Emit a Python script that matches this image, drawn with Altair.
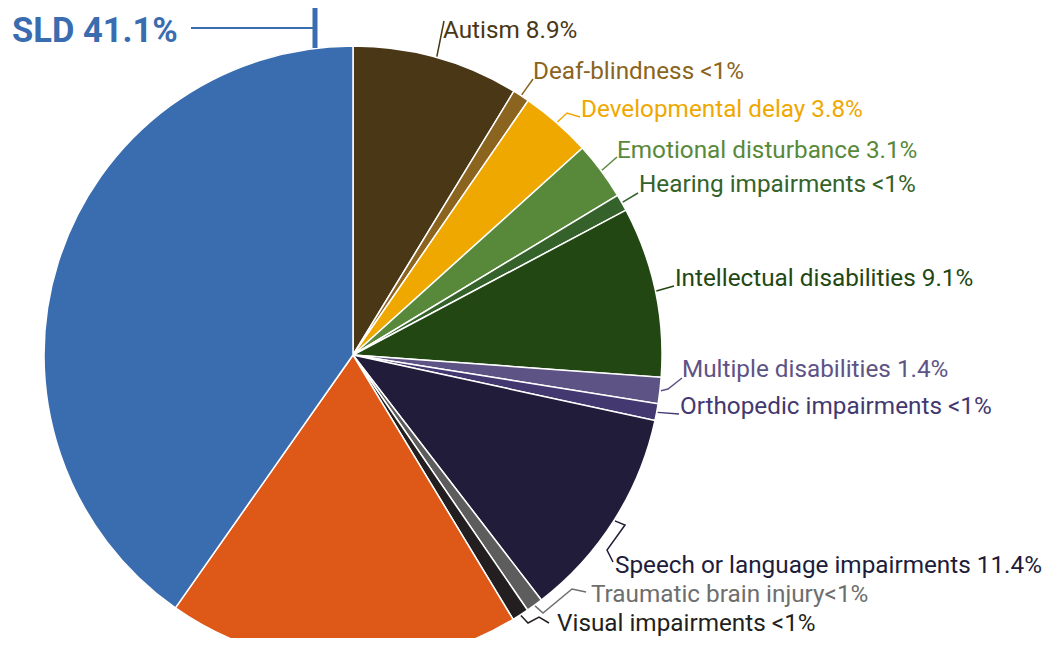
import math
import altair as alt
import pandas as pd

# ---- data ----
categories = ["Autism", "Deaf-blindness", "Developmental delay", "Emotional disturbance",
              "Hearing impairments", "Intellectual disabilities", "Multiple disabilities",
              "Orthopedic impairments", "Speech or language impairments",
              "Traumatic brain injury", "Visual impairments", "Other health impairments", "SLD"]
values = [8.9, 0.9, 3.8, 3.1, 0.9, 9.1, 1.4, 0.9, 11.4, 0.9, 0.9, 18.8, 41.1]
label_texts = ["Autism 8.9%", "Deaf-blindness <1%", "Developmental delay 3.8%",
               "Emotional disturbance 3.1%", "Hearing impairments <1%",
               "Intellectual disabilities 9.1%", "Multiple disabilities 1.4%",
               "Orthopedic impairments <1%", "Speech or language impairments 11.4%",
               "Traumatic brain injury<1%", "Visual impairments <1%", "", "SLD 41.1%"]

# ---- styles / layout ----
slice_colors = ["#4A3716", "#8B6420", "#EFA800", "#58893A", "#35622A", "#224712", "#5E5385",
                "#433870", "#201C3A", "#5D5D5D", "#231F20", "#DE5818", "#3A6CB0"]
label_colors = ["#4A3716", "#8B6420", "#EFA800", "#58893A", "#35622A", "#224712", "#5E5385",
                "#433870", "#201C3A", "#6E6E6E", "#231F20", "#DE5818", "#3A6CB0"]
# label anchor (page px): left x, baseline y
label_x = [443, 533, 581, 617, 639, 675, 682, 680, 615, 591, 557, None, 12]
label_y = [38, 79, 117, 158, 192, 286, 377, 414, 573, 602, 631, None, 42]
# leader elbows (page px) after the start point on the pie edge
leader_elbows = [
    [(444, 21)],
    [(533, 79)],
    [(567, 113), (580, 117)],
    [(617, 157)],
    [(638, 193)],
    [(674, 286)],
    [(668, 389), (682, 378)],
    [(679, 414)],
    [(625, 525), (607, 550), (613, 562)],
    [(543, 613), (572, 589), (586, 592)],
    [(528, 623), (539, 617), (549, 623)],
    None,
    None,
]

W, H = 1036, 630
OFF = 8
CX, CY, R = 353, 355, 309  # page coords

pie_df = pd.DataFrame({
    "category": categories,
    "value": values,
    "idx": list(range(len(values))),
    "color": slice_colors,
})

total = sum(values)
line_rows = []
cum = 0.0
for i, v in enumerate(values):
    mid = (cum + v / 2) / total * 2 * math.pi
    cum += v
    if leader_elbows[i] is None:
        continue
    sx = CX + (R + 1) * math.sin(mid)
    sy = CY - (R + 1) * math.cos(mid)
    pts = [(sx, sy)] + leader_elbows[i]
    for k, (px, py) in enumerate(pts):
        line_rows.append({"g": f"L{i}", "k": k, "x": px, "y": py,
                          "color": label_colors[i], "w": 1.5})
# SLD call-out (vertical bar from the pie top, horizontal to label)
for k, (px, py) in enumerate([(315, 0), (315, 48)]):
    line_rows.append({"g": "SLDv", "k": k, "x": px, "y": py, "color": "#3A6CB0", "w": 5})
for k, (px, py) in enumerate([(191, 28), (315, 28)]):
    line_rows.append({"g": "SLDh", "k": k, "x": px, "y": py, "color": "#3A6CB0", "w": 2})
lines_df = pd.DataFrame(line_rows)

lab_df = pd.DataFrame({
    "text": label_texts, "x": label_x, "y": label_y, "color": label_colors,
    "cat": categories,
})
lab_df = lab_df[lab_df["text"] != ""]
small_df = lab_df[lab_df["cat"] != "SLD"]
sld_df = lab_df[lab_df["cat"] == "SLD"]

xs = alt.Scale(domain=[OFF, OFF + W], range=[0, W], nice=False, zero=False)
ys = alt.Scale(domain=[OFF, OFF + H], range=[0, H], nice=False, zero=False)

pie = alt.Chart(pie_df).mark_arc(radius=R, stroke="white", strokeWidth=1.5).encode(
    theta=alt.Theta("value:Q", stack=True),
    order=alt.Order("idx:Q"),
    color=alt.Color("color:N", scale=None),
    x=alt.value(CX - OFF),
    y=alt.value(CY - OFF),
)

leaders = alt.Chart(lines_df).mark_line(strokeCap="butt").encode(
    x=alt.X("x:Q", scale=xs, axis=None),
    y=alt.Y("y:Q", scale=ys, axis=None),
    detail="g:N",
    order="k:Q",
    color=alt.Color("color:N", scale=None),
    strokeWidth=alt.StrokeWidth("w:Q", scale=None),
)

labels = alt.Chart(small_df).mark_text(
    font="Roboto", fontSize=24.3, align="left", baseline="alphabetic"
).encode(
    x=alt.X("x:Q", scale=xs, axis=None),
    y=alt.Y("y:Q", scale=ys, axis=None),
    text="text:N",
    color=alt.Color("color:N", scale=None),
)

sld_label = alt.Chart(sld_df).mark_text(
    font="Roboto", fontSize=34.5, fontWeight="bold", align="left", baseline="alphabetic"
).encode(
    x=alt.X("x:Q", scale=xs, axis=None),
    y=alt.Y("y:Q", scale=ys, axis=None),
    text="text:N",
    color=alt.Color("color:N", scale=None),
)

chart = alt.layer(pie, leaders, labels, sld_label).properties(
    width=W, height=H,
    autosize=alt.AutoSizeParams(type="none"),
    padding=0,
    background="white",
).configure_view(stroke=None)

chart.save("out.html", embed_options={"renderer": "svg", "actions": False})
